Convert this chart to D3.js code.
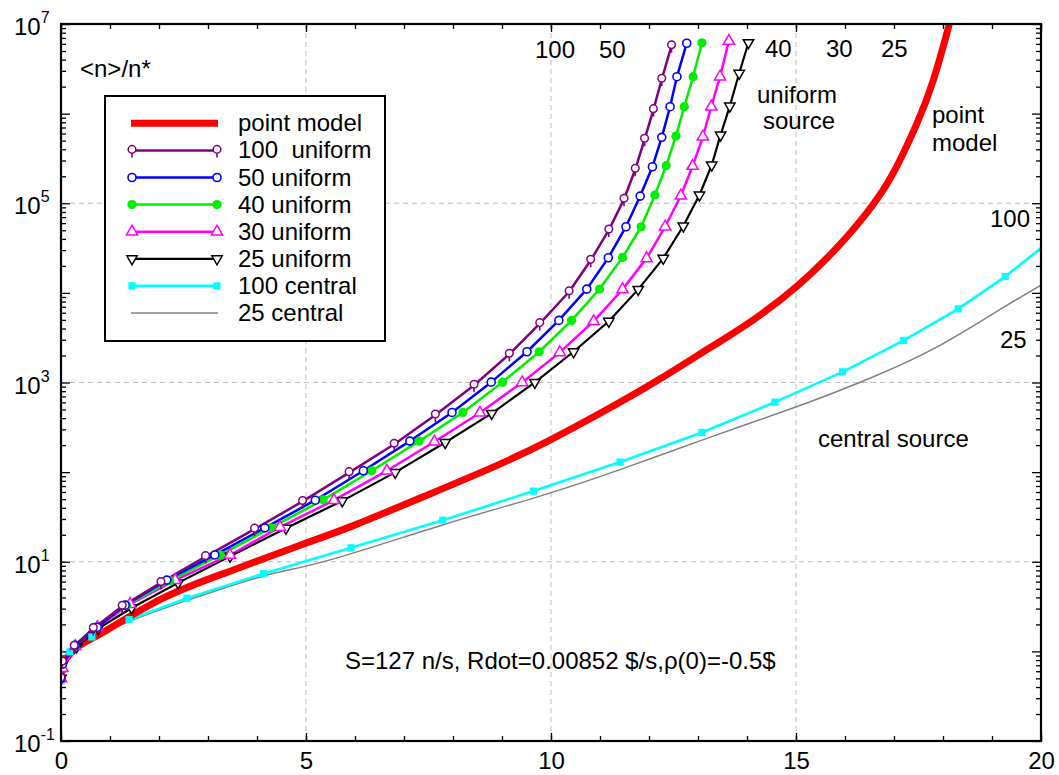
<!DOCTYPE html>
<html><head><meta charset="utf-8">
<script src="https://cdn.jsdelivr.net/npm/d3@7"></script>
<style>body{margin:0;background:#fff} text{font-family:"Liberation Sans",Arial,sans-serif;fill:#000}</style>
</head><body><svg id="c" width="1059" height="775"></svg>
<script>
// ---------- data ----------
const xMajor = [0, 5, 10, 15, 20];
const xMinor = d3.range(0, 21, 1);
const xGrid = [5, 10, 15];
const yLabelExp = [-1, 1, 3, 5, 7];
const yMajor = [0.1, 1, 10, 100, 1e3, 1e4, 1e5, 1e6, 1e7];
const yGrid = [10, 1e3, 1e5];

const pm_x = [0, 0.08, 0.39, 0.90, 2.08, 3.45, 4.88, 5.90, 7.39, 8.76, 9.98, 11.27, 12.22, 13.25, 14.13, 15.01, 15.76, 16.31, 16.78, 17.12, 17.46, 17.80, 18.14, 18.25];
const pm_y = [0.53, 0.78, 1.17, 1.68, 3.92, 7.85, 15.3, 24.5, 53.0, 110, 228, 546, 1091, 2455, 5012, 11750, 28840, 63100, 141300, 302000, 758600, 2.34e6, 1.05e7, 1.8e7];

const u100_x = [0, 0.03, 0.27, 0.66, 1.25, 2.04, 2.95, 3.95, 4.93, 5.88, 6.80, 7.64, 8.43, 9.15, 9.77, 10.37, 10.81, 11.18, 11.49, 11.72, 11.91, 12.09, 12.26, 12.46];
const u100_y = [0.5, 0.76, 1.14, 1.80, 3.19, 5.87, 11.4, 23.1, 47.1, 98.6, 205, 433, 931, 2070, 4540, 10300, 23100, 50200, 110700, 239300, 517600, 1.107e6, 2.42e6, 5.73e6];

const u50_x = [0, 0.03, 0.29, 0.74, 1.31, 2.16, 3.14, 4.16, 5.19, 6.17, 7.12, 7.98, 8.78, 9.51, 10.16, 10.73, 11.17, 11.53, 11.82, 12.07, 12.26, 12.43, 12.57, 12.77];
const u50_y = [0.5, 0.72, 1.17, 1.86, 3.28, 6.24, 11.9, 23.9, 48.6, 103.5, 222, 463, 1009, 2203, 4932, 11020, 24660, 54700, 120200, 255300, 543300, 1.194e6, 2.582e6, 6.1e6];

const u40_x = [0, 0.03, 0.29, 0.69, 1.34, 2.22, 3.25, 4.28, 5.35, 6.34, 7.31, 8.20, 9.01, 9.76, 10.42, 10.99, 11.46, 11.84, 12.12, 12.35, 12.55, 12.72, 12.90, 13.08];
const u40_y = [0.5, 0.72, 1.17, 1.87, 3.28, 6.12, 11.9, 23.9, 49.1, 103.5, 222, 463, 1009, 2203, 4932, 11020, 24890, 54700, 123600, 262400, 562300, 1.194e6, 2.582e6, 6.18e6];

const u30_x = [0, 0.03, 0.29, 0.74, 1.41, 2.33, 3.45, 4.47, 5.57, 6.65, 7.62, 8.55, 9.41, 10.18, 10.87, 11.46, 11.95, 12.33, 12.65, 12.89, 13.10, 13.27, 13.45, 13.63];
const u30_y = [0.5, 0.65, 1.14, 1.86, 3.37, 6.24, 11.9, 24.3, 48.6, 103.5, 218, 459, 1002, 2168, 4819, 10940, 24270, 54700, 121300, 260000, 552100, 1.194e6, 2.582e6, 6.46e6];

const u25_x = [0, 0.02, 0.32, 0.76, 1.44, 2.39, 3.45, 4.59, 5.74, 6.82, 7.84, 8.79, 9.67, 10.46, 11.18, 11.78, 12.29, 12.70, 13.03, 13.28, 13.46, 13.65, 13.84, 14.03];
const u25_y = [0.5, 0.70, 1.12, 1.80, 3.05, 5.81, 11.5, 23.6, 47.8, 99.3, 214, 452, 1002, 2203, 4819, 10940, 24270, 55720, 123600, 266700, 576800, 1.216e6, 2.818e6, 6.18e6];

const c100_x = [0, 0.18, 0.63, 1.39, 2.57, 4.13, 5.92, 7.79, 9.64, 11.41, 13.08, 14.57, 15.95, 17.20, 18.31, 19.27, 20.0];
const c100_y = [0.47, 0.99, 1.45, 2.26, 3.92, 7.36, 14.3, 29.1, 61.4, 129.4, 277, 604, 1315, 2951, 6637, 15200, 31600];

const c25_x = [0, 0.04, 0.14, 0.39, 0.63, 1.37, 2.59, 4.12, 5.49, 7.80, 9.71, 11.48, 13.18, 15.01, 16.58, 17.94, 19.10, 20.0];
const c25_y = [0.47, 0.65, 0.88, 1.14, 1.40, 2.14, 3.73, 6.90, 10.5, 25.9, 52.6, 110, 238, 536, 1159, 2600, 6200, 12220];

const seriesNames = ["point model", "100  uniform", "50 uniform", "40 uniform", "30 uniform", "25 uniform", "100 central", "25 central"];

// ---------- chart ----------
const svg = d3.select("#c");
const M = {l: 61, r: 1041, t: 24, b: 741};
const x = d3.scaleLinear().domain([0, 20]).range([M.l, M.r]);
const y = d3.scaleLog().domain([0.1, 1e7]).range([M.b, M.t]);

svg.append("rect").attr("width", 1059).attr("height", 775).attr("fill", "#fff");

svg.append("clipPath").attr("id", "plot").append("rect")
  .attr("x", M.l).attr("y", M.t).attr("width", M.r - M.l).attr("height", M.b - M.t);

// grid
const grid = svg.append("g").attr("stroke", "#bdbdbd").attr("stroke-dasharray", "5,4").attr("stroke-width", 1);
xGrid.forEach(v => grid.append("line").attr("x1", x(v)).attr("x2", x(v)).attr("y1", M.t).attr("y2", M.b));
yGrid.forEach(v => grid.append("line").attr("y1", y(v)).attr("y2", y(v)).attr("x1", M.l).attr("x2", M.r));

// axes ticks (inward)
function ax(axis, tr) {
  const g = svg.append("g").attr("transform", tr).call(axis);
  g.select(".domain").remove();
  g.selectAll(".tick line").attr("stroke", "#000").attr("stroke-width", 1.3);
  return g;
}
const yMinor = [];
for (let e = -1; e < 7; e++) for (let m = 2; m <= 9; m++) yMinor.push(m * Math.pow(10, e));

ax(d3.axisBottom(x).tickValues(xMinor).tickSize(-5).tickFormat(""), `translate(0,${M.b})`);
ax(d3.axisTop(x).tickValues(xMinor).tickSize(-5).tickFormat(""), `translate(0,${M.t})`);
ax(d3.axisBottom(x).tickValues(xMajor).tickSize(-8).tickFormat(""), `translate(0,${M.b})`);
ax(d3.axisTop(x).tickValues(xMajor).tickSize(-8).tickFormat(""), `translate(0,${M.t})`);
ax(d3.axisLeft(y).tickValues(yMinor).tickSize(-5).tickFormat(""), `translate(${M.l},0)`);
ax(d3.axisRight(y).tickValues(yMinor).tickSize(-5).tickFormat(""), `translate(${M.r},0)`);
ax(d3.axisLeft(y).tickValues(yMajor).tickSize(-9).tickFormat(""), `translate(${M.l},0)`);
ax(d3.axisRight(y).tickValues(yMajor).tickSize(-9).tickFormat(""), `translate(${M.r},0)`);

// x labels
const xl = ax(d3.axisBottom(x).tickValues(xMajor).tickSize(0).tickPadding(11).tickFormat(d3.format("d")), `translate(0,${M.b})`);
xl.selectAll("text").attr("font-size", 24).attr("font-family", '"Liberation Sans",Arial,sans-serif').attr("fill", "#000");

// y labels 10^n
const yl = svg.append("g");
yLabelExp.forEach(e => {
  const t = yl.append("text").attr("x", 14).attr("y", y(Math.pow(10, e)) + 11).attr("font-size", 24);
  t.append("tspan").text("10");
  t.append("tspan").attr("dy", -12).attr("font-size", 16).text(String(e));
});

// series
const line = d3.line().x(d => x(d[0])).y(d => y(d[1]));
const smooth = d3.line().x(d => x(d[0])).y(d => y(d[1])).curve(d3.curveNatural);
const zip = (a, b) => a.map((v, i) => [v, b[i]]);

const plot = svg.append("g").attr("clip-path", "url(#plot)");

function marker(g, type, color) {
  if (type === "stem") {
    g.append("line").attr("x1", 0).attr("x2", 0).attr("y1", 2.5).attr("y2", 7).attr("stroke", color).attr("stroke-width", 1.6);
    g.append("circle").attr("cy", -1).attr("r", 3.8).attr("fill", "#fff").attr("stroke", color).attr("stroke-width", 1.5);
  } else if (type === "ocircle") {
    g.append("circle").attr("r", 4).attr("fill", "#fff").attr("stroke", color).attr("stroke-width", 1.6);
  } else if (type === "dot") {
    g.append("circle").attr("r", 4.6).attr("fill", color);
  } else if (type === "triup") {
    g.append("path").attr("d", "M0,-6.5L5.6,3.3L-5.6,3.3Z").attr("fill", "#fff").attr("stroke", color).attr("stroke-width", 1.5);
  } else if (type === "tridown") {
    g.append("path").attr("d", "M0,6L5.2,-3L-5.2,-3Z").attr("fill", "#fff").attr("stroke", color).attr("stroke-width", 1.5);
  } else if (type === "square") {
    g.append("rect").attr("x", -3.6).attr("y", -3.6).attr("width", 7.2).attr("height", 7.2).attr("fill", color);
  }
}

const series = [
  {name: seriesNames[7], data: zip(c25_x, c25_y), color: "#808080", w: 1.5, curve: smooth, mk: null},
  {name: seriesNames[6], data: zip(c100_x, c100_y), color: "#00ffff", w: 2.6, curve: line, mk: "square", skipLast: true},
  {name: seriesNames[0], data: zip(pm_x, pm_y), color: "#ff0000", w: 7, curve: smooth, mk: null},
  {name: seriesNames[5], data: zip(u25_x, u25_y), color: "#000000", w: 2.2, curve: line, mk: "tridown"},
  {name: seriesNames[4], data: zip(u30_x, u30_y), color: "#ff00ff", w: 2.5, curve: line, mk: "triup"},
  {name: seriesNames[3], data: zip(u40_x, u40_y), color: "#00ee00", w: 2.5, curve: line, mk: "dot"},
  {name: seriesNames[2], data: zip(u50_x, u50_y), color: "#0000ff", w: 2.5, curve: line, mk: "ocircle"},
  {name: seriesNames[1], data: zip(u100_x, u100_y), color: "#800080", w: 2.5, curve: line, mk: "stem"}
];

series.forEach(s => {
  plot.append("path").attr("d", s.curve(s.data)).attr("fill", "none")
    .attr("stroke", s.color).attr("stroke-width", s.w).attr("stroke-linejoin", "round");
});
series.forEach(s => {
  if (!s.mk) return;
  const pts = s.skipLast ? s.data.slice(0, -1) : s.data;
  pts.forEach(d => marker(plot.append("g").attr("transform", `translate(${x(d[0])},${y(d[1])})`), s.mk, s.color));
});

// frame
svg.append("rect").attr("x", M.l).attr("y", M.t).attr("width", M.r - M.l).attr("height", M.b - M.t)
  .attr("fill", "none").attr("stroke", "#000").attr("stroke-width", 2.2);

// legend
const legendOrder = [
  {name: seriesNames[0], color: "#ff0000", w: 7, mk: null},
  {name: seriesNames[1], color: "#800080", w: 2.5, mk: "stem"},
  {name: seriesNames[2], color: "#0000ff", w: 2.5, mk: "ocircle"},
  {name: seriesNames[3], color: "#00ee00", w: 2.5, mk: "dot"},
  {name: seriesNames[4], color: "#ff00ff", w: 2.5, mk: "triup"},
  {name: seriesNames[5], color: "#000000", w: 2.2, mk: "tridown"},
  {name: seriesNames[6], color: "#00ffff", w: 2.6, mk: "square"},
  {name: seriesNames[7], color: "#808080", w: 1.5, mk: null}
];
const lg = svg.append("g");
lg.append("rect").attr("x", 105).attr("y", 96).attr("width", 280).attr("height", 245)
  .attr("fill", "#fff").attr("stroke", "#000").attr("stroke-width", 2);
legendOrder.forEach((s, i) => {
  const yy = 123.3 + i * 27.1;
  lg.append("line").attr("x1", 131).attr("x2", 218).attr("y1", yy).attr("y2", yy)
    .attr("stroke", s.color).attr("stroke-width", s.w);
  if (s.mk) {
    marker(lg.append("g").attr("transform", `translate(132,${yy})`), s.mk, s.color);
    marker(lg.append("g").attr("transform", `translate(217,${yy})`), s.mk, s.color);
  }
  lg.append("text").attr("x", 238).attr("y", yy + 8).attr("font-size", 24)
    .style("white-space", "pre").text(s.name);
});

// annotations
const ann = [
  {t: "<n>/n*", x: 80, y: 77, a: "start"},
  {t: "100", x: 535, y: 58, a: "start"},
  {t: "50", x: 599, y: 58, a: "start"},
  {t: "40", x: 765, y: 57, a: "start"},
  {t: "30", x: 826, y: 57, a: "start"},
  {t: "25", x: 881, y: 57, a: "start"},
  {t: "uniform", x: 797, y: 103, a: "middle"},
  {t: "source", x: 799, y: 129, a: "middle"},
  {t: "point", x: 932, y: 123, a: "start"},
  {t: "model", x: 932, y: 151, a: "start"},
  {t: "100", x: 990, y: 227, a: "start"},
  {t: "25", x: 1000, y: 348, a: "start"},
  {t: "central source", x: 818, y: 447, a: "start"},
  {t: "S=127 n/s, Rdot=0.00852 $/s,\u03c1(0)=-0.5$", x: 345, y: 669, a: "start"}
];
ann.forEach(d => svg.append("text").attr("x", d.x).attr("y", d.y).attr("text-anchor", d.a).attr("font-size", 24).text(d.t));
</script></body></html>
